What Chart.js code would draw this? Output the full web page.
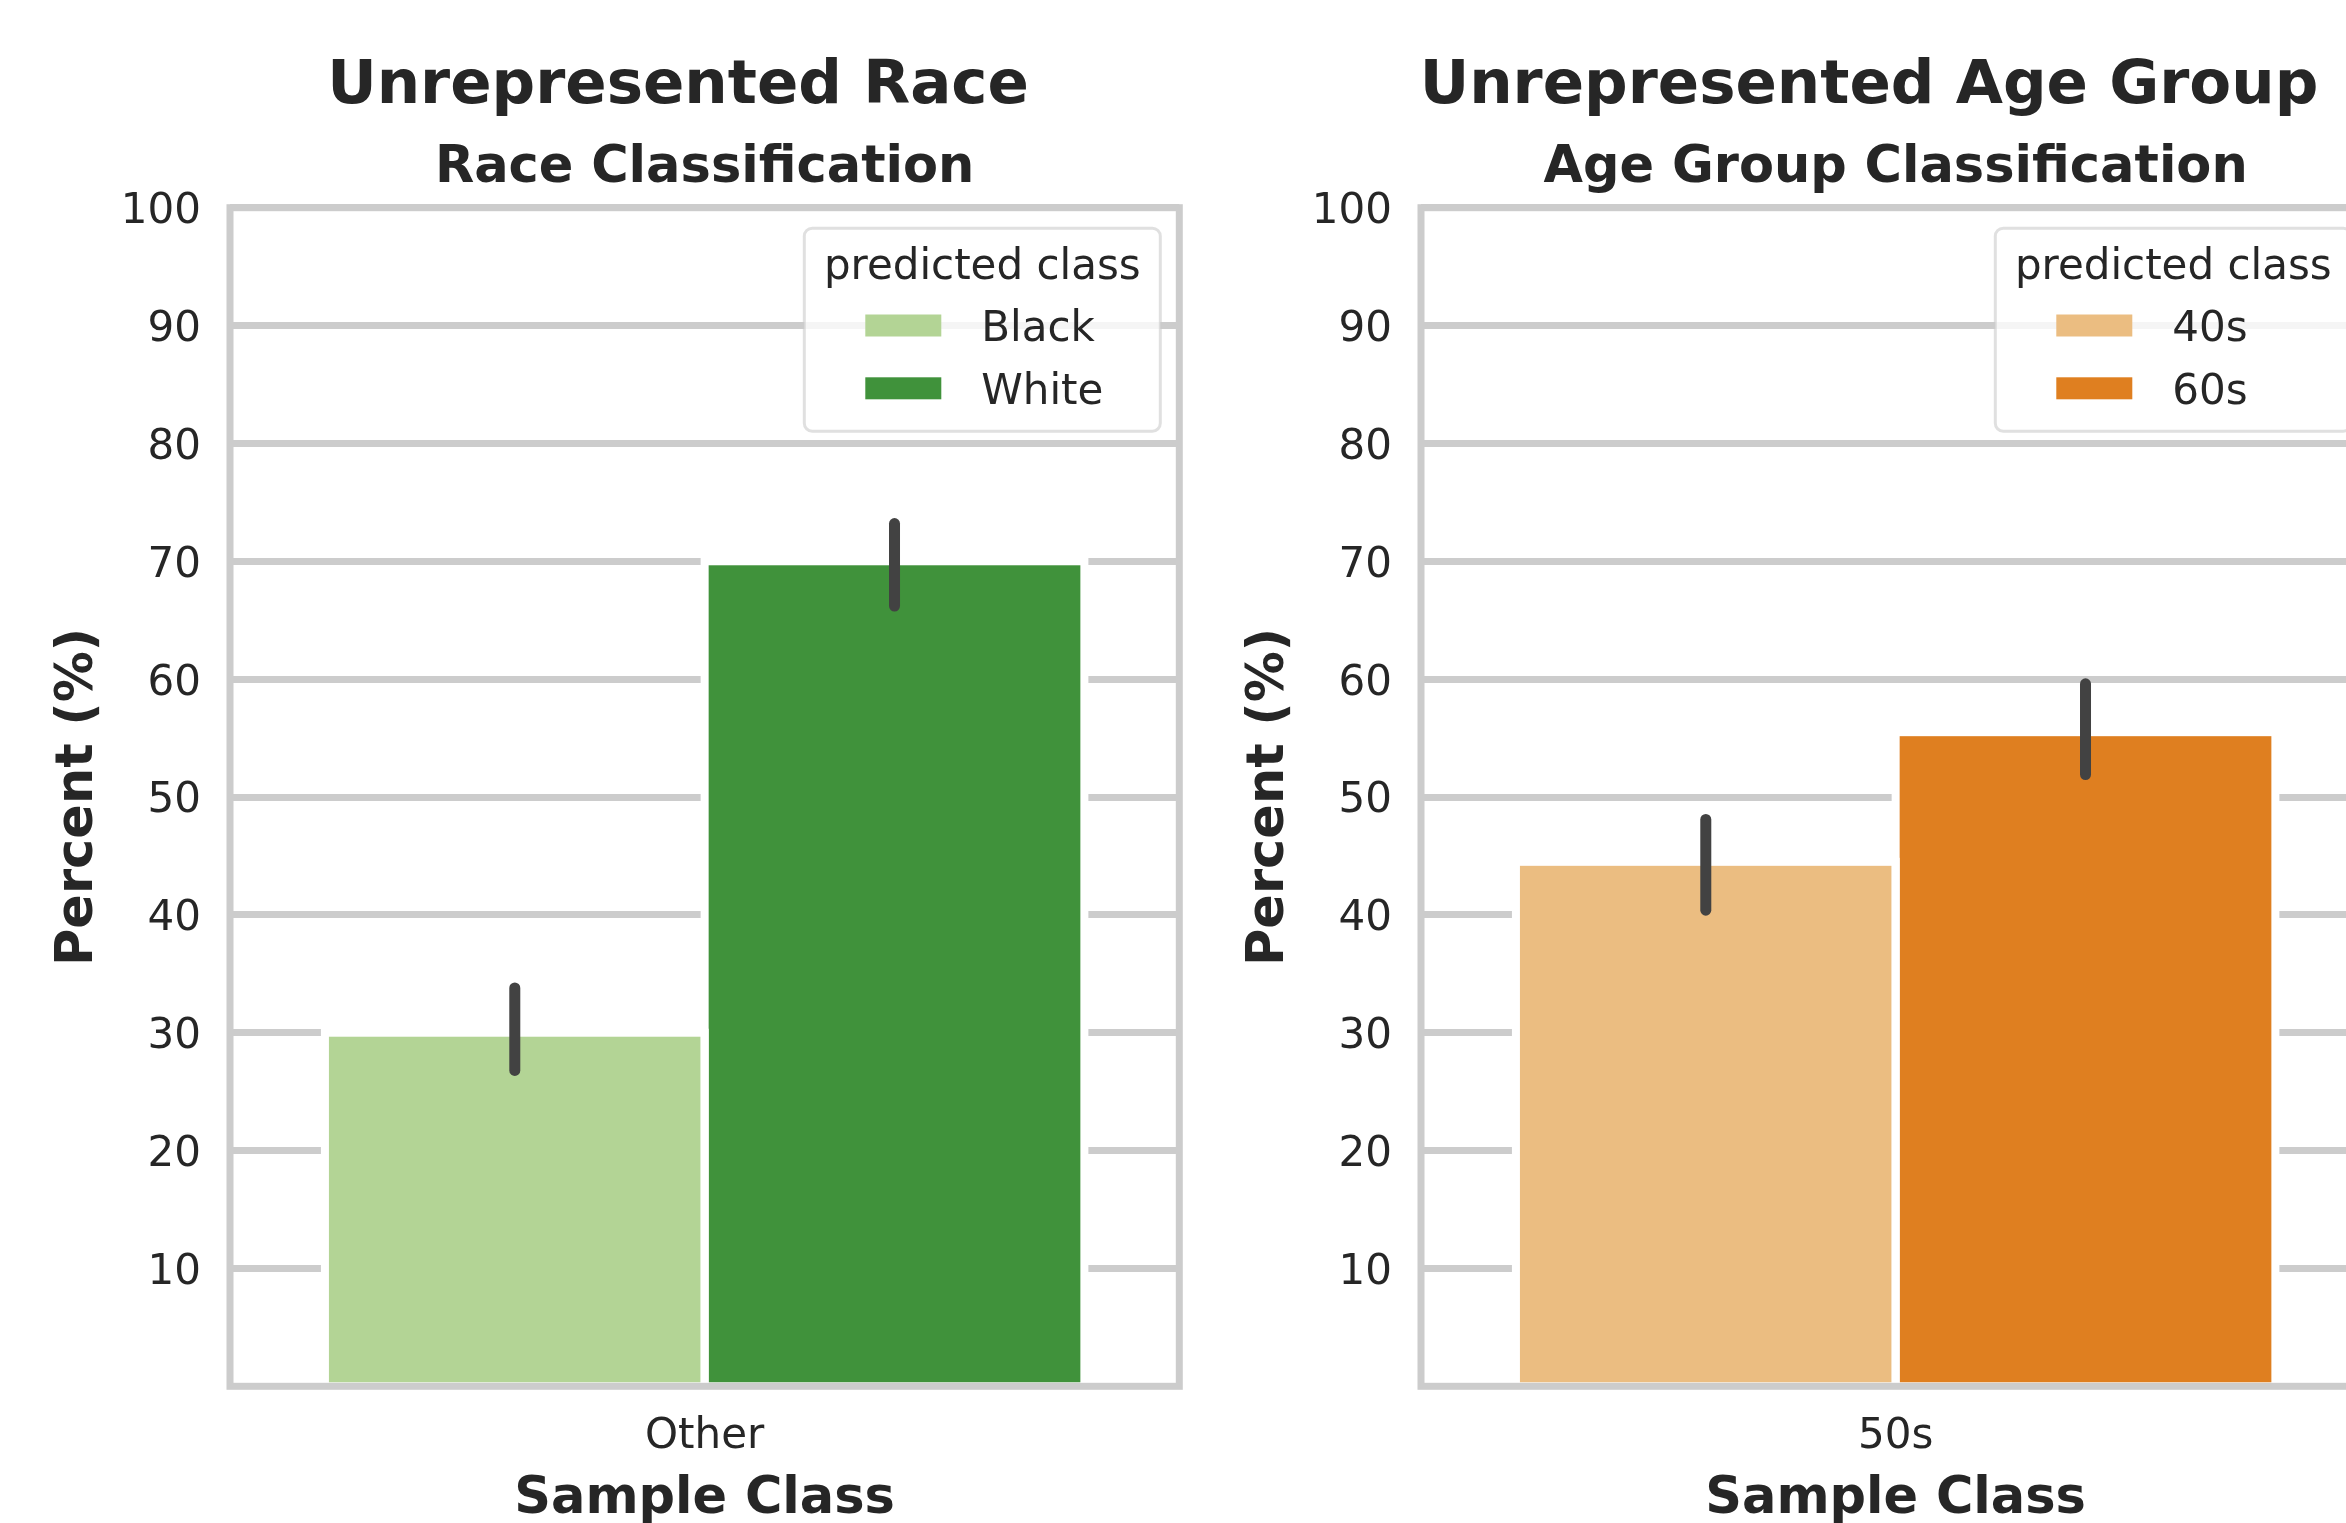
<!DOCTYPE html>
<html>
<head>
<meta charset="utf-8">
<script src="https://cdn.jsdelivr.net/npm/chart.js@4.4.0/dist/chart.umd.min.js"></script>
<style>
  html, body { margin: 0; padding: 0; background: #fff; overflow: hidden; width: 2346px; height: 1523px; }
  .panel { position: absolute; top: 0; width: 1191px; height: 1523px; }
  .maintitle {
    position: absolute; top: 52px; width: 1356px; text-align: center;
    font: bold 61px "DejaVu Sans"; line-height: 60px; color: #262626; white-space: nowrap;
  }
</style>
</head>
<body>
<div class="maintitle" style="left:0px">Unrepresented Race</div>
<div class="maintitle" style="left:1191px">Unrepresented Age Group</div>
<div class="panel" style="left:0px"><canvas id="raceChart" width="1191" height="1523"></canvas></div>
<div class="panel" style="left:1191px"><canvas id="ageChart" width="1191" height="1523"></canvas></div>
<script>
// data
const raceGroups = ["Other"];
const raceClasses = ["Black", "White"];
const raceValues = [30.0, 70.0];
const raceLow = [26.8, 66.2];
const raceHigh = [33.8, 73.2];
const raceColors = ["#b3d495", "#40923b"];

const ageGroups = ["50s"];
const ageClasses = ["40s", "60s"];
const ageValues = [44.5, 55.5];
const ageLow = [40.4, 51.9];
const ageHigh = [48.1, 59.6];
const ageColors = ["#ebbd81", "#df7f20"];

const yTicks = [10, 20, 30, 40, 50, 60, 70, 80, 90, 100];

const textColor = "#262626";
const fontFamily = '"DejaVu Sans"';

// white bar edges, frame and error bars
const barExtras = {
  id: "barExtras",
  afterDatasetsDraw(chart) {
    const ctx = chart.ctx;
    const area = chart.chartArea;
    const y = chart.scales.y;
    ctx.save();
    chart.data.datasets.forEach((ds, i) => {
      chart.getDatasetMeta(i).data.forEach(bar => {
        ctx.lineWidth = 8;
        ctx.strokeStyle = "#ffffff";
        ctx.strokeRect(bar.x - bar.width / 2, bar.y, bar.width, bar.base - bar.y);
      });
    });
    ctx.lineWidth = 7;
    ctx.strokeStyle = "#cccccc";
    ctx.strokeRect(area.left, area.top, area.right - area.left, area.bottom - area.top);
    ctx.lineWidth = 11;
    ctx.lineCap = "round";
    ctx.strokeStyle = "#424242";
    chart.data.datasets.forEach((ds, i) => {
      chart.getDatasetMeta(i).data.forEach((bar, j) => {
        ctx.beginPath();
        ctx.moveTo(bar.x, y.getPixelForValue(ds.errLow[j]));
        ctx.lineTo(bar.x, y.getPixelForValue(ds.errHigh[j]));
        ctx.stroke();
      });
    });
    ctx.restore();
  }
};

// legend box inside the plot, top right
const legendBox = {
  id: "legendBox",
  afterDraw(chart) {
    const ctx = chart.ctx;
    const area = chart.chartArea;
    const w = 356, h = 203;
    const x = area.right - 375;
    const top = area.top + 20.5;
    ctx.save();
    ctx.beginPath();
    ctx.roundRect(x, top, w, h, 8);
    ctx.fillStyle = "rgba(255,255,255,0.8)";
    ctx.fill();
    ctx.lineWidth = 3;
    ctx.strokeStyle = "rgba(204,204,204,0.6)";
    ctx.stroke();
    ctx.font = "42px " + fontFamily;
    ctx.textBaseline = "middle";
    ctx.textAlign = "center";
    ctx.fillStyle = textColor;
    ctx.fillText("predicted class", x + w / 2, area.top + 60);
    ctx.textAlign = "left";
    chart.data.datasets.forEach((ds, i) => {
      const cy = area.top + 117.8 + i * 62.8;
      ctx.fillStyle = ds.backgroundColor;
      ctx.fillRect(x + 61, cy - 11, 76, 22);
      ctx.fillStyle = textColor;
      ctx.fillText(ds.label, x + 177, cy + 4.5);
    });
    ctx.restore();
  }
};

function drawPanel(canvasId, subtitle, groups, classes, values, low, high, colors) {
  const datasets = classes.map((name, i) => ({
    label: name,
    data: [values[i]],
    errLow: [low[i]],
    errHigh: [high[i]],
    backgroundColor: colors[i],
    borderWidth: 0,
    categoryPercentage: 0.8,
    barPercentage: 1.0
  }));

  return new Chart(document.getElementById(canvasId).getContext("2d"), {
    type: "bar",
    data: { labels: groups, datasets: datasets },
    plugins: [barExtras, legendBox],
    options: {
      responsive: false,
      animation: false,
      devicePixelRatio: 1,
      layout: { padding: { left: 0, right: 11.7, top: 0, bottom: 0 } },
      plugins: {
        legend: { display: false },
        tooltip: { enabled: false },
        title: {
          display: true,
          text: subtitle,
          fullSize: false,
          color: textColor,
          font: { family: fontFamily, size: 51, weight: "bold", lineHeight: 1.2 },
          padding: { top: 138.5, bottom: 8 }
        }
      },
      scales: {
        x: {
          grid: { display: false, drawTicks: false },
          border: { display: false },
          ticks: { color: textColor, font: { family: fontFamily, size: 42 }, padding: 26 },
          title: {
            display: true,
            text: "Sample Class",
            color: textColor,
            font: { family: fontFamily, size: 51, weight: "bold", lineHeight: 1.2 },
            padding: { top: 0, bottom: -7 }
          },
          afterFit: scale => { scale.height = 136.7; }
        },
        y: {
          min: 0,
          max: 100,
          afterBuildTicks: axis => { axis.ticks = yTicks.map(v => ({ value: v })); },
          grid: { color: "#cccccc", lineWidth: 7, drawTicks: false },
          border: { display: false },
          ticks: { color: textColor, font: { family: fontFamily, size: 42 }, padding: 29, labelOffset: 4.5 },
          title: {
            display: true,
            text: "Percent (%)",
            color: textColor,
            font: { family: fontFamily, size: 51, weight: "bold", lineHeight: 1.2 },
            padding: { top: 48.5, bottom: 0 }
          },
          afterFit: scale => { scale.width = 230; }
        }
      }
    }
  });
}

drawPanel("raceChart", "Race Classification", raceGroups, raceClasses, raceValues, raceLow, raceHigh, raceColors);
drawPanel("ageChart", "Age Group Classification", ageGroups, ageClasses, ageValues, ageLow, ageHigh, ageColors);
</script>
</body>
</html>
